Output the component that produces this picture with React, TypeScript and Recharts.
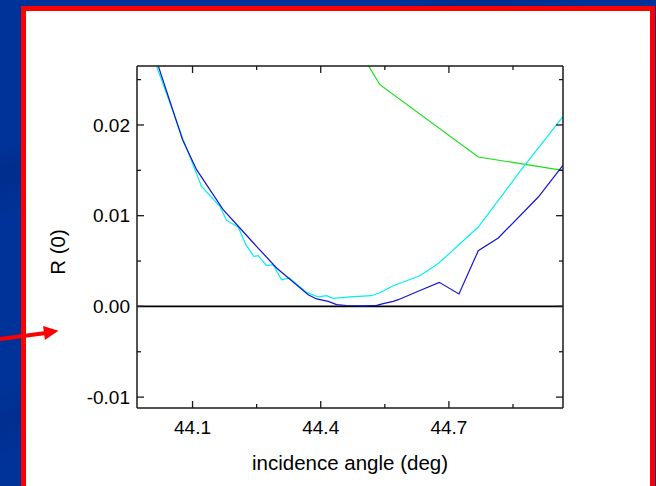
import React from 'react';
import { LineChart, Line, XAxis, YAxis, ReferenceLine } from 'recharts';

// ---------- data ----------
const blueAngle = [44.0117, 44.0766, 44.1094, 44.1716, 44.2107, 44.2498, 44.2967, 44.3707, 44.3903, 44.4175, 44.4372, 44.4606, 44.50, 44.5308, 44.5463, 44.5697, 44.5814, 44.6322, 44.6774, 44.7235, 44.7687, 44.8155, 44.9092, 44.9663];
const blueR = [0.02767, 0.01838, 0.01507, 0.01066, 0.00864, 0.00662, 0.00423, 0.00129, 0.00082, 0.00055, 0.0002, 0.0001, 0.00005, 0.00012, 0.0003, 0.00055, 0.00074, 0.00176, 0.00265, 0.00137, 0.00614, 0.00754, 0.01206, 0.01551];

const cyanAngle = [44.007, 44.078, 44.1211, 44.1639, 44.1796, 44.2068, 44.2248, 44.2435, 44.2536, 44.2733, 44.2887, 44.3084, 44.3262, 44.3669, 44.3941, 44.4137, 44.4292, 44.4683, 44.5191, 44.5369, 44.5697, 44.6322, 44.6767, 44.7687, 44.8663, 44.9663];
const cyanR = [0.02764, 0.01838, 0.01323, 0.01103, 0.00948, 0.00875, 0.0068, 0.00551, 0.00559, 0.00449, 0.0046, 0.00294, 0.00313, 0.00154, 0.00104, 0.00118, 0.00088, 0.00104, 0.00118, 0.00148, 0.00228, 0.00338, 0.00478, 0.00875, 0.01488, 0.02088];

const greenAngle = [44.4963, 44.5385, 44.7687, 44.9663];
const greenR = [0.02772, 0.02444, 0.01647, 0.015];

const xTicks = [44.1, 44.25, 44.4, 44.55, 44.7, 44.85];
const xMajorTicks = [44.1, 44.4, 44.7];
const yTicks = [-0.01, -0.005, 0, 0.005, 0.01, 0.015, 0.02, 0.025];
const yMajorTicks = [-0.01, 0, 0.01, 0.02];

const xDomain: [number, number] = [43.97, 44.967];
const yDomain: [number, number] = [-0.0112, 0.0265];

const xLabel = 'incidence angle (deg)';
const yLabel = 'R (0)';

// ---------- build series ----------
const toPoints = (xs: number[], ys: number[]) => xs.map((x, i) => ({ x, y: ys[i] }));
const blueData = toPoints(blueAngle, blueR);
const cyanData = toPoints(cyanAngle, cyanR);
const greenData = toPoints(greenAngle, greenR);

// ---------- style ----------
const FONT = '"Liberation Sans", Arial, sans-serif';
const AXIS = '#1a1a1a';
const MAJOR = 7;
const MINOR = 4;
const TICK_FONT = 19;
const TITLE_FONT = 20.5;

const isIn = (v: number, arr: number[]) => arr.some((t) => Math.abs(t - v) < 1e-9);

const BottomTick = (props: any) => {
  const { x, y, payload } = props;
  const major = isIn(payload.value, xMajorTicks);
  return (
    <g>
      <line x1={x} x2={x} y1={y} y2={y - (major ? MAJOR : MINOR)} stroke={AXIS} strokeWidth={1.3} />
      {major && (
        <text x={x} y={y + 25.5} textAnchor="middle" fontFamily={FONT} fontSize={TICK_FONT} fill="#000">
          {payload.value.toFixed(1)}
        </text>
      )}
    </g>
  );
};

const TopTick = (props: any) => {
  const { x, y, payload } = props;
  const major = isIn(payload.value, xMajorTicks);
  return <line x1={x} x2={x} y1={y} y2={y + (major ? MAJOR : MINOR)} stroke={AXIS} strokeWidth={1.3} />;
};

const LeftTick = (props: any) => {
  const { x, y, payload } = props;
  const major = isIn(payload.value, yMajorTicks);
  return (
    <g>
      <line x1={x} x2={x + (major ? MAJOR : MINOR)} y1={y} y2={y} stroke={AXIS} strokeWidth={1.3} />
      {major && (
        <text x={x - 7} y={y + 6.8} textAnchor="end" fontFamily={FONT} fontSize={TICK_FONT} fill="#000">
          {payload.value.toFixed(2)}
        </text>
      )}
    </g>
  );
};

const RightTick = (props: any) => {
  const { x, y, payload } = props;
  const major = isIn(payload.value, yMajorTicks);
  return <line x1={x} x2={x - (major ? MAJOR : MINOR)} y1={y} y2={y} stroke={AXIS} strokeWidth={1.3} />;
};

const XTitle = (props: any) => {
  const vb = props.viewBox || { x: 137, y: 408, width: 426, height: 70 };
  return (
    <text x={vb.x + vb.width / 2} y={vb.y + 62} textAnchor="middle" fontFamily={FONT} fontSize={TITLE_FONT} fill="#000">
      {xLabel}
    </text>
  );
};

const YTitle = (props: any) => {
  const vb = props.viewBox || { x: 0, y: 66, width: 137, height: 342 };
  const cx = vb.x + 57;
  const cy = vb.y + vb.height / 2 + 15;
  return (
    <text
      x={cx}
      y={cy}
      transform={`rotate(-90 ${cx} ${cy})`}
      textAnchor="middle"
      dominantBaseline="central"
      fontFamily={FONT}
      fontSize={TITLE_FONT}
      fill="#000"
    >
      {yLabel}
    </text>
  );
};

const axisLine = { stroke: AXIS, strokeWidth: 1.5 };

export default function App() {
  return (
    <div style={{ position: 'absolute', left: 0, top: 0, width: 656, height: 486, overflow: 'hidden', background: '#003399' }}>
      <div
        style={{
          position: 'absolute',
          inset: 0,
          background:
            'linear-gradient(160deg, rgba(0,0,0,0) 20%, rgba(0,20,90,0.18) 24%, rgba(0,0,0,0) 31%), linear-gradient(150deg, rgba(0,0,0,0) 45%, rgba(0,20,90,0.14) 49%, rgba(0,0,0,0) 54%)',
        }}
      />
      <div
        style={{
          position: 'absolute',
          left: 21,
          top: 6,
          width: 634,
          height: 500,
          border: '5px solid #ff0000',
          boxSizing: 'border-box',
          background: '#ffffff',
        }}
      />
      <div style={{ position: 'absolute', left: 0, top: 0 }}>
        <LineChart width={656} height={486} margin={{ top: 56, right: 83, bottom: 8, left: 0 }}>
          <XAxis
            xAxisId="bottom"
            type="number"
            dataKey="x"
            domain={xDomain}
            allowDataOverflow
            ticks={xTicks}
            interval={0}
            height={70}
            tickSize={0}
            tickMargin={0}
            tickLine={false}
            tick={BottomTick}
            axisLine={axisLine}
            label={{ content: XTitle }}
          />
          <XAxis
            xAxisId="top"
            orientation="top"
            type="number"
            dataKey="x"
            domain={xDomain}
            allowDataOverflow
            ticks={xTicks}
            interval={0}
            height={10}
            tickSize={0}
            tickMargin={0}
            tickLine={false}
            tick={TopTick}
            axisLine={axisLine}
          />
          <YAxis
            yAxisId="left"
            type="number"
            domain={yDomain}
            allowDataOverflow
            ticks={yTicks}
            interval={0}
            width={137}
            tickSize={0}
            tickMargin={0}
            tickLine={false}
            tick={LeftTick}
            axisLine={axisLine}
            label={{ content: YTitle }}
          />
          <YAxis
            yAxisId="right"
            orientation="right"
            type="number"
            domain={yDomain}
            allowDataOverflow
            ticks={yTicks}
            interval={0}
            width={10}
            tickSize={0}
            tickMargin={0}
            tickLine={false}
            tick={RightTick}
            axisLine={axisLine}
          />
          <ReferenceLine xAxisId="bottom" yAxisId="left" y={0} stroke="#000" strokeWidth={1.6} />
          <Line
            xAxisId="bottom"
            yAxisId="left"
            data={greenData}
            dataKey="y"
            type="linear"
            stroke="#14e014"
            strokeWidth={1.2}
            dot={false}
            isAnimationActive={false}
          />
          <Line
            xAxisId="bottom"
            yAxisId="left"
            data={cyanData}
            dataKey="y"
            type="linear"
            stroke="#00f0f0"
            strokeWidth={1.2}
            dot={false}
            isAnimationActive={false}
          />
          <Line
            xAxisId="bottom"
            yAxisId="left"
            data={blueData}
            dataKey="y"
            type="linear"
            stroke="#1414d2"
            strokeWidth={1.2}
            dot={false}
            isAnimationActive={false}
          />
        </LineChart>
      </div>
      <svg width={656} height={486} style={{ position: 'absolute', left: 0, top: 0, pointerEvents: 'none' }}>
        <line x1={0} y1={339} x2={46} y2={333} stroke="#ff0000" strokeWidth={4} />
        <polygon points="58.5,330.8 43.1,326.1 44.9,340" fill="#ff0000" />
      </svg>
    </div>
  );
}
